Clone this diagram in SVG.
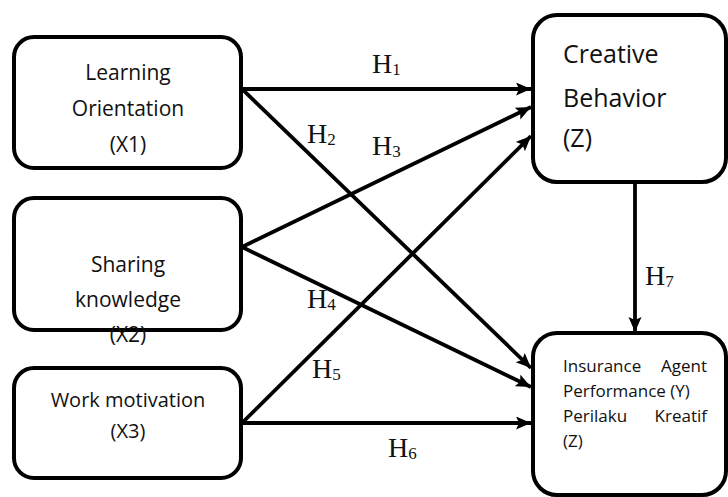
<svg xmlns="http://www.w3.org/2000/svg" width="728" height="497" viewBox="0 0 728 497">
<style>
.box{fill:#fff;stroke:#000;stroke-width:4}
.t{font-family:"Open Sans","Noto Sans",sans-serif;fill:#111}
.h{font-family:"Liberation Serif","Times New Roman",serif;font-size:28px;fill:#111}
.s{font-size:17px}
.c{fill:none;stroke:#000;stroke-width:3.8}
</style>
<defs>
<marker id="ah" markerUnits="userSpaceOnUse" markerWidth="16" markerHeight="14" refX="15" refY="6.5" orient="auto">
<path d="M0,0 L15,6.5 L0,13 L3,6.5 Z" fill="#000"/>
</marker>
</defs>
<rect width="728" height="497" fill="#fff"/>
<g id="connectors">
<line class="c" x1="242" y1="89" x2="531" y2="89" marker-end="url(#ah)"/>
<line class="c" x1="242" y1="89" x2="531" y2="368" marker-end="url(#ah)"/>
<line class="c" x1="242" y1="247" x2="531" y2="107" marker-end="url(#ah)"/>
<line class="c" x1="242" y1="247" x2="531" y2="387" marker-end="url(#ah)"/>
<line class="c" x1="242" y1="423" x2="531" y2="136" marker-end="url(#ah)"/>
<line class="c" x1="242" y1="423" x2="531" y2="423" marker-end="url(#ah)"/>
<line class="c" x1="635" y1="182" x2="635" y2="332" marker-end="url(#ah)"/>
<text class="h" x="372" y="73">H<tspan class="s" dy="2">1</tspan></text>
<text class="h" x="307" y="143">H<tspan class="s" dy="2">2</tspan></text>
<text class="h" x="372" y="155">H<tspan class="s" dy="2">3</tspan></text>
<text class="h" x="307" y="308">H<tspan class="s" dy="2">4</tspan></text>
<text class="h" x="312" y="378">H<tspan class="s" dy="2">5</tspan></text>
<text class="h" x="388" y="457">H<tspan class="s" dy="2">6</tspan></text>
<text class="h" x="645" y="285">H<tspan class="s" dy="2">7</tspan></text>
</g>
<g id="X1">
<rect class="box" x="14" y="37" width="227" height="131" rx="20"/>
<text class="t" font-size="21" text-anchor="middle" x="128" y="80">Learning</text>
<text class="t" font-size="21" text-anchor="middle" x="128" y="116">Orientation</text>
<text class="t" font-size="21" text-anchor="middle" x="128" y="152">(X1)</text>
</g>
<g id="X2">
<rect class="box" x="14" y="198" width="227" height="132" rx="20"/>
<text class="t" font-size="21" text-anchor="middle" x="128" y="272">Sharing</text>
<text class="t" font-size="21" text-anchor="middle" x="128" y="307">knowledge</text>
<text class="t" font-size="21" text-anchor="middle" x="128" y="342">(X2)</text>
</g>
<g id="X3">
<rect class="box" x="14" y="368" width="227" height="110" rx="20"/>
<text class="t" font-size="20" text-anchor="middle" x="128" y="407">Work motivation</text>
<text class="t" font-size="20" text-anchor="middle" x="128" y="438">(X3)</text>
</g>
<g id="Z">
<rect class="box" x="533" y="15" width="193" height="167" rx="24"/>
<text class="t" font-size="25" x="563" y="63">Creative</text>
<text class="t" font-size="25" x="563" y="107">Behavior</text>
<text class="t" font-size="25" x="563" y="147">(Z)</text>
</g>
<g id="Y">
<rect class="box" x="533" y="333" width="193" height="162" rx="24"/>
<text class="t" font-size="17" x="563" y="372">Insurance</text>
<text class="t" font-size="17" x="707" y="372" text-anchor="end">Agent</text>
<text class="t" font-size="17" x="563" y="397">Performance (Y)</text>
<text class="t" font-size="17" x="563" y="422">Perilaku</text>
<text class="t" font-size="17" x="707" y="422" text-anchor="end">Kreatif</text>
<text class="t" font-size="17" x="563" y="447">(Z)</text>
</g>
</svg>
